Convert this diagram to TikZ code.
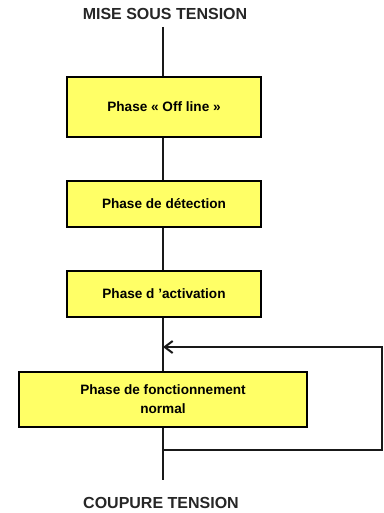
\documentclass[tikz,border=0pt]{standalone}
\usepackage{fontspec}
\setmainfont{Liberation Sans}
\usetikzlibrary{arrows.meta, positioning}

\definecolor{phaseyellow}{RGB}{255,255,102}

\tikzset{
  phase/.style={draw=black, line width=1.8pt, fill=phaseyellow, inner sep=0pt,
    font=\fontsize{13.6}{19}\selectfont\bfseries, align=center},
  title/.style={font=\fontsize{16}{19}\selectfont\bfseries, text=black!85, inner sep=0pt},
  wire/.style={line width=1.6pt, black!90}
}

\begin{document}
\begin{tikzpicture}[x=1pt, y=-1pt]
\useasboundingbox (0,0) rectangle (383,513);
% start and end labels
\node[title] (start) at (165,14) {MISE SOUS TENSION};
\node[title] (stop) at (161,503) {COUPURE TENSION};
% the four phases
\node[phase, minimum width=194pt, minimum height=60pt] (offline) at (164,107) {Phase « Off line »};
\node[phase, minimum width=194pt, minimum height=46pt] (detect) at (164,204) {Phase de détection};
\node[phase, minimum width=194pt, minimum height=46pt] (activ) at (164,294) {Phase d 'activation};
\node[phase, minimum width=288pt, minimum height=55pt] (normal) at (163,399.5) {Phase de fonctionnement\\normal};
% corner points of the loop
\coordinate (topend) at (163,27);
\coordinate (botend) at (163,480);
\coordinate (loopin) at (163,347);
\coordinate (loopout) at (163,450);
\coordinate (ne) at (382,347);
\coordinate (se) at (382,450);
% main chain
\draw[wire] (topend) -- (offline.north -| topend);
\draw[wire] (offline.south -| topend) -- (detect.north -| topend);
\draw[wire] (detect.south -| topend) -- (activ.north -| topend);
\draw[wire] (activ.south -| topend) -- (normal.north -| topend);
\draw[wire] (normal.south -| topend) -- (botend);
% return loop
\draw[wire, -{Straight Barb[length=8pt, width=12pt, line width=2pt]}] (loopout) -- (se) -- (ne) -- (loopin);
\end{tikzpicture}
\end{document}
